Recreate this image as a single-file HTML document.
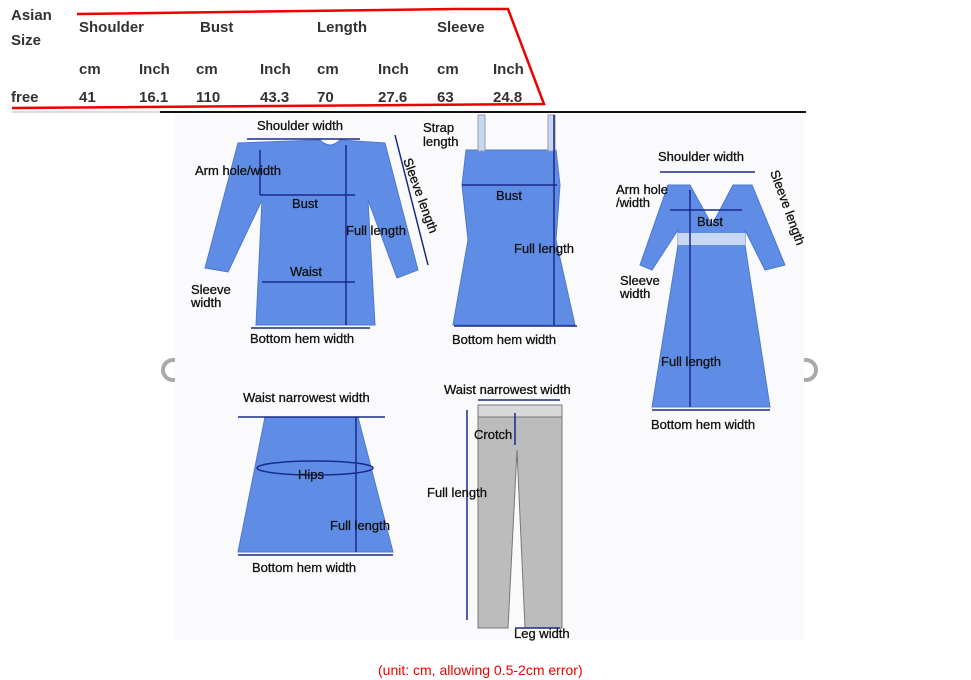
<!DOCTYPE html>
<html><head><meta charset="utf-8"><style>
body{margin:0;width:971px;height:680px;background:#fff;overflow:hidden;position:relative;font-family:"Liberation Sans",Arial,sans-serif}
.t{position:absolute;font-weight:bold;font-size:15px;color:#333}
</style></head><body>
<div class="t" style="left:11px;top:7px">Asian</div>
<div class="t" style="left:11px;top:32px">Size</div>
<div class="t" style="left:79px;top:19px">Shoulder</div>
<div class="t" style="left:200px;top:19px">Bust</div>
<div class="t" style="left:317px;top:19px">Length</div>
<div class="t" style="left:437px;top:19px">Sleeve</div>
<div class="t" style="left:79px;top:61px">cm</div><div class="t" style="left:139px;top:61px">Inch</div>
<div class="t" style="left:196px;top:61px">cm</div><div class="t" style="left:260px;top:61px">Inch</div>
<div class="t" style="left:317px;top:61px">cm</div><div class="t" style="left:378px;top:61px">Inch</div>
<div class="t" style="left:437px;top:61px">cm</div><div class="t" style="left:493px;top:61px">Inch</div>
<div class="t" style="left:11px;top:89px">free</div>
<div class="t" style="left:79px;top:89px">41</div><div class="t" style="left:139px;top:89px">16.1</div>
<div class="t" style="left:196px;top:89px">110</div><div class="t" style="left:260px;top:89px">43.3</div>
<div class="t" style="left:317px;top:89px">70</div><div class="t" style="left:378px;top:89px">27.6</div>
<div class="t" style="left:437px;top:89px">63</div><div class="t" style="left:493px;top:89px">24.8</div>
<svg width="971" height="680" style="position:absolute;left:0;top:0" font-family="Liberation Sans,Arial,sans-serif" font-size="13">
<polyline points="77,14 455,9 508,9 544,104 12,108" fill="none" stroke="#e00" stroke-width="2.5"/>
<line x1="12" y1="112" x2="545" y2="112" stroke="#bbb" stroke-width="1"/>
<circle cx="173" cy="370" r="10" fill="none" stroke="#aaa" stroke-width="4"/>
<circle cx="806" cy="370" r="10" fill="none" stroke="#aaa" stroke-width="4"/>
<rect x="175" y="112" width="629" height="528" fill="#fafafc"/>
<line x1="160" y1="112" x2="806" y2="112" stroke="#111" stroke-width="2"/>
<g fill="#5f8de6" stroke="#4d78d0">
<path d="M238,143 L320,140 Q330,150 340,140 L385,143 L418,270 L397,278 L368,200 L375,325 L256,325 L262,200 L228,272 L205,268 Z"/>
<path d="M466,150 L556,150 L560,185 L556,240 L575,325 L453,325 L468,240 L462,185 Z"/>
<path d="M668,185 L690,185 L712,225 L733,185 L752,185 L785,265 L765,270 L745,230 L745,245 L770,407 L652,407 L678,245 L678,230 L652,270 L640,265 Z"/>
<path d="M265,417 L358,417 L393,552 L238,552 Z"/>
</g>
<rect x="678" y="233" width="67" height="12" fill="#c8d8f4"/>
<rect x="478" y="115" width="7" height="36" fill="#c8d8f4" stroke="#99a"/>
<rect x="548" y="115" width="7" height="36" fill="#c8d8f4" stroke="#99a"/>
<path d="M478,405 L562,405 L562,628 L525,628 L517,450 L508,628 L478,628 Z" fill="#bcbcbc" stroke="#777"/>
<rect x="478" y="405" width="84" height="12" fill="#d8d8d8" stroke="#777"/>
<g stroke="#1a2a8a" stroke-width="1.5" fill="none">
<line x1="247" y1="139" x2="360" y2="139"/><line x1="346" y1="145" x2="346" y2="325"/>
<line x1="260" y1="150" x2="260" y2="195"/><line x1="260" y1="195" x2="355" y2="195"/>
<line x1="262" y1="282" x2="355" y2="282"/><line x1="251" y1="328" x2="370" y2="328"/>
<line x1="395" y1="135" x2="428" y2="265"/>
<line x1="462" y1="185" x2="557" y2="185"/><line x1="554" y1="115" x2="554" y2="325"/>
<line x1="454" y1="326" x2="577" y2="326"/>
<line x1="660" y1="172" x2="755" y2="172"/><line x1="690" y1="190" x2="690" y2="407"/>
<line x1="670" y1="210" x2="742" y2="210"/>
<line x1="652" y1="410" x2="770" y2="410"/>
<line x1="238" y1="417" x2="385" y2="417"/><line x1="356" y1="417" x2="356" y2="552"/>
<ellipse cx="315" cy="468" rx="58" ry="7"/>
<line x1="238" y1="555" x2="393" y2="555"/>
<line x1="478" y1="400" x2="560" y2="400"/><line x1="515" y1="413" x2="515" y2="445"/>
<line x1="467" y1="410" x2="467" y2="620"/><line x1="515" y1="628" x2="560" y2="628"/>
</g>
<g fill="#111" stroke="#111" stroke-width="0.3">
<text x="257" y="130">Shoulder width</text>
<text x="195" y="175">Arm hole/width</text>
<text x="292" y="208">Bust</text>
<text x="346" y="235">Full length</text>
<text x="290" y="276">Waist</text>
<text x="191" y="294">Sleeve</text><text x="191" y="307">width</text>
<text x="250" y="343">Bottom hem width</text>
<text x="403" y="160" transform="rotate(70 403 160)">Sleeve length</text>
<text x="423" y="132">Strap</text><text x="423" y="146">length</text>
<text x="496" y="200">Bust</text>
<text x="514" y="253">Full length</text>
<text x="452" y="344">Bottom hem width</text>
<text x="658" y="161">Shoulder width</text>
<text x="616" y="194">Arm hole</text><text x="616" y="207">/width</text>
<text x="697" y="226">Bust</text>
<text x="620" y="285">Sleeve</text><text x="620" y="298">width</text>
<text x="661" y="366">Full length</text>
<text x="651" y="429">Bottom hem width</text>
<text x="770" y="172" transform="rotate(70 770 172)">Sleeve length</text>
<text x="243" y="402">Waist narrowest width</text>
<text x="298" y="479">Hips</text>
<text x="330" y="530">Full length</text>
<text x="252" y="572">Bottom hem width</text>
<text x="444" y="394">Waist narrowest width</text>
<text x="474" y="439">Crotch</text>
<text x="427" y="497">Full length</text>
<text x="514" y="638">Leg width</text>
</g>
<text x="378" y="675" fill="#e00" font-size="14">(unit: cm, allowing 0.5-2cm error)</text>
</svg>
</body></html>
